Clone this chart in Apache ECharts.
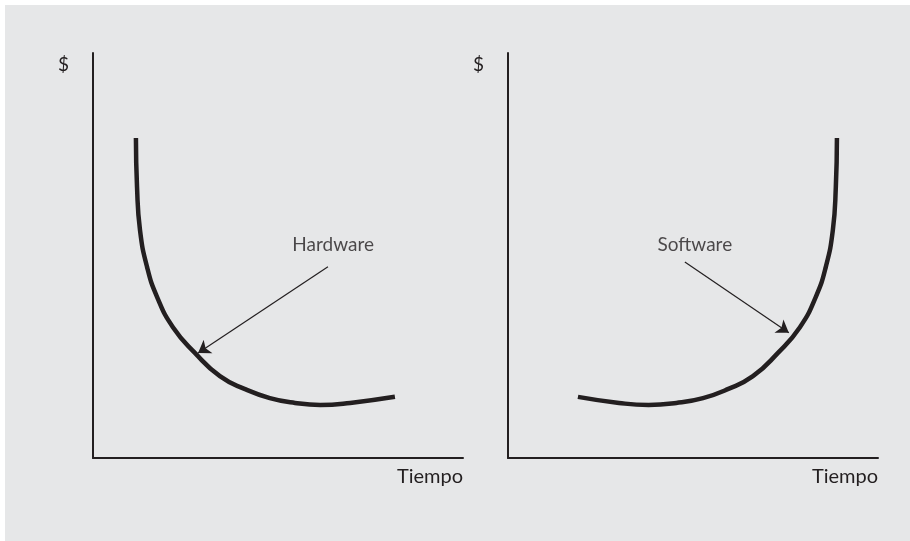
<!DOCTYPE html>
<html>
<head>
    <meta charset="utf-8">
    <style>
        body{margin: 0; background: #fff;}
        #container{position: absolute; left: 5px; top: 5px; width: 905px; height: 536px; background: #e6e7e8;}
    </style>
</head>
<body>
<div id="container"></div>
<script src="https://cdn.jsdelivr.net/npm/echarts@6/dist/echarts.min.js"></script>
<script type="text/javascript">
    // curve points, x/y in 0..10 of each panel
    var hardware = [[1.16, 7.90], [1.19, 6.69], [1.27, 5.63], [1.46, 4.72], [1.73, 3.98], [2.16, 3.23],
        [2.76, 2.59], [3.43, 2.02], [4.11, 1.70], [4.78, 1.48], [5.46, 1.36], [6.14, 1.31], [6.95, 1.36], [8.16, 1.51]];
    var software = [[1.89, 1.51], [3.00, 1.36], [3.80, 1.31], [4.55, 1.36], [5.27, 1.48], [5.94, 1.70],
        [6.62, 2.02], [7.29, 2.59], [7.89, 3.23], [8.32, 3.98], [8.59, 4.72], [8.78, 5.63], [8.86, 6.69], [8.89, 7.90]];

    var labels = ["Hardware", "Software"];
    var labelPos = [[6.49, 5.26], [5.05, 5.26]];
    var arrows = [
        [[6.35, 4.72], [2.84, 2.59]],
        [[4.78, 4.84], [7.59, 3.09]]
    ];
    var axisNames = {x: "Tiempo", y: "$"};

    var ink = "#231f20";
    var font = "Lato";

    var dom = document.getElementById("container");
    var myChart = echarts.init(dom);

    function axisX(i) {
        return {
            gridIndex: i, type: 'value', min: 0, max: 10,
            axisLine: {show: true, onZero: false, lineStyle: {color: ink, width: 2}},
            axisTick: {show: false}, axisLabel: {show: false}, splitLine: {show: false},
            name: axisNames.x, nameLocation: 'end', nameGap: 0,
            nameTextStyle: {color: ink, fontFamily: font, fontSize: 20, align: 'right', verticalAlign: 'top', padding: [9, 0, 0, 0]}
        };
    }
    function axisY(i) {
        return {
            gridIndex: i, type: 'value', min: 0, max: 10,
            axisLine: {show: true, onZero: false, lineStyle: {color: ink, width: 2}},
            axisTick: {show: false}, axisLabel: {show: false}, splitLine: {show: false},
            name: axisNames.y, nameLocation: 'end', nameGap: -12,
            nameTextStyle: {color: ink, fontFamily: font, fontSize: 19, align: 'right', verticalAlign: 'middle', padding: [0, 24, 0, 0]}
        };
    }

    var series = [];
    [hardware, software].forEach(function (d, i) {
        series.push({
            type: 'line', xAxisIndex: i, yAxisIndex: i, data: d,
            smooth: true, showSymbol: false, silent: true,
            lineStyle: {color: ink, width: 4.5}
        });
        series.push({
            type: 'lines', coordinateSystem: 'cartesian2d', xAxisIndex: i, yAxisIndex: i,
            data: [{coords: arrows[i]}],
            symbol: ['none', 'arrow'], symbolSize: 12,
            lineStyle: {color: ink, width: 1.2, opacity: 1}
        });
        series.push({
            type: 'scatter', xAxisIndex: i, yAxisIndex: i, symbolSize: 0,
            data: [{value: labelPos[i], name: labels[i]}],
            label: {show: true, position: 'inside', formatter: '{b}', color: ink, fontFamily: font, fontSize: 19}
        });
    });

    var option = {
        animation: false,
        grid: [
            {left: 88, top: 48, width: 370, height: 405},
            {left: 503, top: 48, width: 370, height: 405}
        ],
        xAxis: [axisX(0), axisX(1)],
        yAxis: [axisY(0), axisY(1)],
        series: series
    };

    myChart.setOption(option, true);
</script>
</body>
</html>
